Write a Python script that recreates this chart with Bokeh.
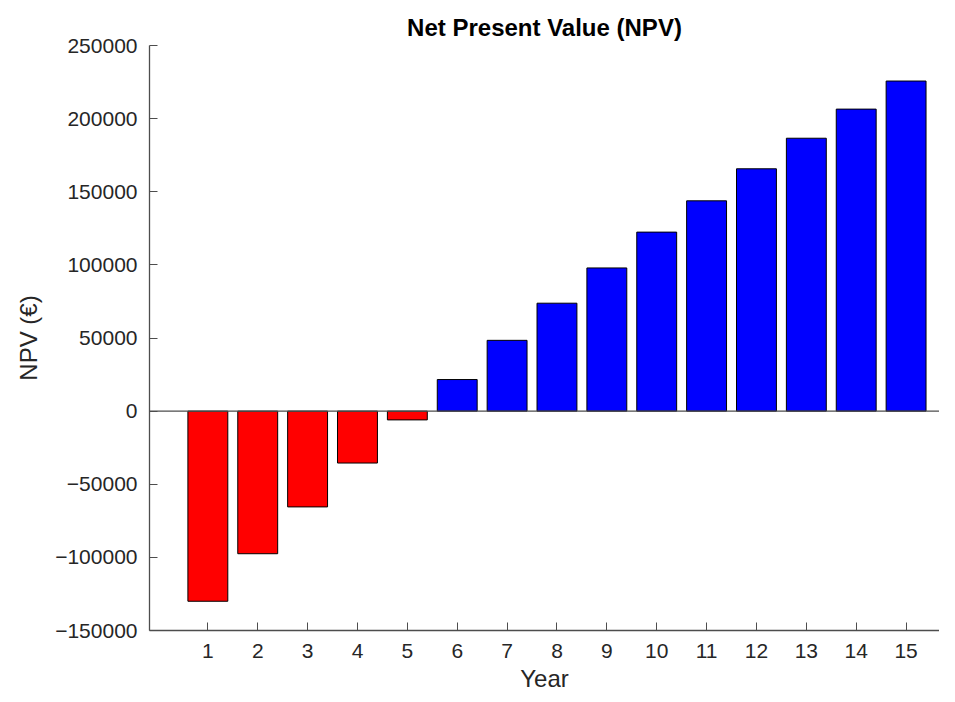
from bokeh.plotting import figure
from bokeh.models import ColumnDataSource, Span, FixedTicker, Range1d, BasicTickFormatter
from bokeh.embed import file_html
from bokeh.resources import INLINE

years = list(range(1, 16))
npv = [-130000, -97500, -65500, -35500, -6000, 21600, 48400, 73800, 97900,
       122400, 143800, 165700, 186600, 206500, 225700]
y_ticks = [-150000, -100000, -50000, 0, 50000, 100000, 150000, 200000, 250000]

colors = ["#ff0000" if v < 0 else "#0000ff" for v in npv]
src = ColumnDataSource(dict(x=years, top=npv, color=colors))

FONT = "Liberation Sans"
TXT = "#262626"

p = figure(width=939, height=694, output_backend="svg", toolbar_location=None,
           x_range=Range1d(-0.17, 15.67), y_range=Range1d(-150000, 250000),
           min_border_left=149, min_border_right=0, min_border_top=45,
           min_border_bottom=63, title="Net Present Value (NPV)")

p.vbar(x="x", top="top", bottom=0, width=0.8, source=src,
       fill_color="color", line_color="#000000", line_width=1)

p.add_layout(Span(location=0, dimension="width", line_color="#4d4d4d", line_width=1.2))

p.title.align = "center"
p.title.text_font = FONT
p.title.text_font_style = "bold"
p.title.text_font_size = "24px"
p.title.text_color = "#000000"
p.title.offset = 8
p.title.standoff = 10

p.outline_line_color = None
p.xgrid.visible = False
p.ygrid.visible = False

for ax in (p.xaxis[0], p.yaxis[0]):
    ax.axis_line_color = "#4d4d4d"
    ax.axis_line_width = 1.3
    ax.major_tick_line_color = "#4d4d4d"
    ax.major_tick_in = 8
    ax.major_tick_out = 0
    ax.minor_tick_line_color = None
    ax.major_label_text_font = FONT
    ax.major_label_text_font_size = "21px"
    ax.major_label_text_color = TXT
    ax.axis_label_text_font = FONT
    ax.axis_label_text_font_size = "24px"
    ax.axis_label_text_font_style = "normal"
    ax.axis_label_text_color = TXT

p.xaxis[0].ticker = FixedTicker(ticks=years)
p.xaxis[0].axis_label = "Year"
p.xaxis[0].major_label_standoff = 13
p.xaxis[0].axis_label_standoff = 4

p.yaxis[0].ticker = FixedTicker(ticks=y_ticks)
p.yaxis[0].formatter = BasicTickFormatter(use_scientific=False)
p.yaxis[0].axis_label = "NPV (€)"
p.yaxis[0].major_label_standoff = 12
p.yaxis[0].axis_label_standoff = 10

open("out.html", "w").write(file_html(p, INLINE))
